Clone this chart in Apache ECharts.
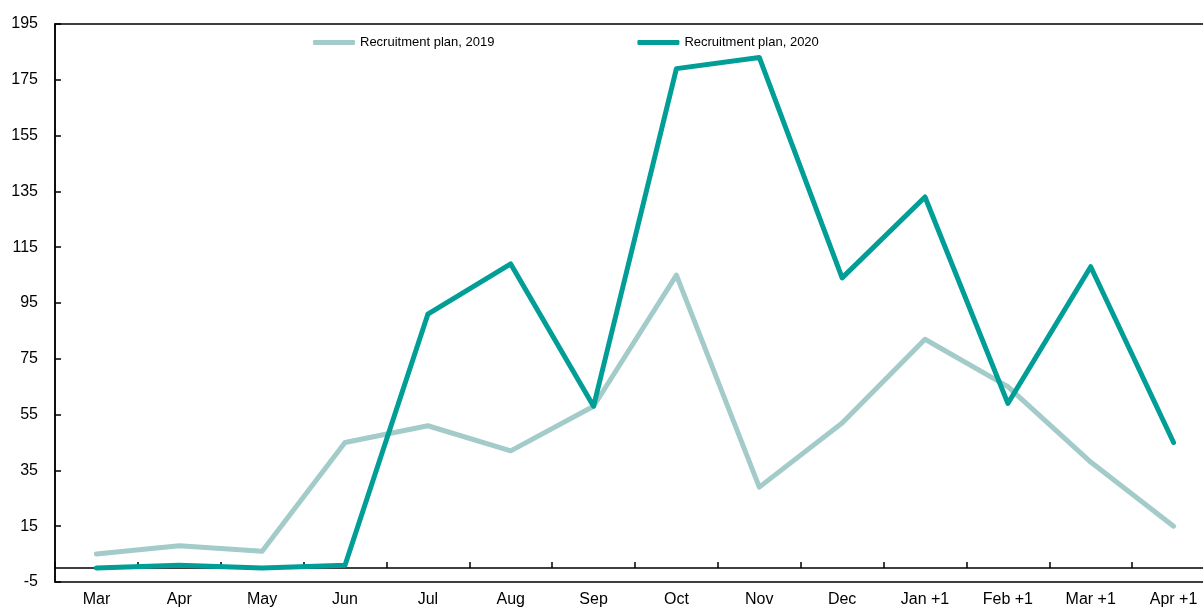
<!DOCTYPE html>
<html lang="en">
<head>
    <meta charset="UTF-8">
    <title>Recruitment plan</title>
    <script src="https://cdn.jsdelivr.net/npm/echarts@6/dist/echarts.min.js"></script>
    <style>
        html, body { margin: 0; padding: 0; background: #fff; }
        #chart { width: 1203px; height: 608px; }
    </style>
</head>
<body>
<div id="chart"></div>
<script>
    // categories and series values
    var months = ['Mar', 'Apr', 'May', 'Jun', 'Jul', 'Aug', 'Sep', 'Oct', 'Nov', 'Dec', 'Jan +1', 'Feb +1', 'Mar +1', 'Apr +1'];
    var plan2019 = [5, 8, 6, 45, 51, 42, 58, 105, 29, 52, 82, 65, 38, 15];
    var plan2020 = [0, 1, 0, 1, 91, 109, 58, 179, 183, 104, 133, 59, 108, 45];
    var seriesNames = ['Recruitment plan, 2019', 'Recruitment plan, 2020'];

    var font = '"Liberation Sans", Arial, sans-serif';
    var myChart = echarts.init(document.getElementById('chart'));
    var option = {
        animation: false,
        grid: {
            left: 55,
            right: -12,
            top: 24,
            bottom: 26,
            outerBoundsMode: 'none',
            containLabel: false,
            show: true,
            borderColor: '#000',
            borderWidth: 1.5
        },
        legend: {
            left: 308,
            top: 31,
            itemGap: 143,
            itemWidth: 42,
            itemHeight: 5,
            icon: 'roundRect',
            textStyle: { fontFamily: font, fontSize: 13, color: '#000' },
            data: seriesNames
        },
        xAxis: {
            type: 'category',
            data: months,
            boundaryGap: true,
            axisLine: { show: true, onZero: true, lineStyle: { color: '#000', width: 1.5 } },
            axisTick: { show: true, inside: true, length: 6, interval: 0, lineStyle: { color: '#000', width: 1.5 } },
            axisLabel: { margin: 10, interval: 0, fontFamily: font, fontSize: 16, color: '#000' },
            splitLine: { show: false }
        },
        yAxis: {
            type: 'value',
            min: -5,
            max: 195,
            interval: 20,
            axisLine: { show: true, onZero: false, lineStyle: { color: '#000', width: 1.5 } },
            axisTick: { show: true, inside: true, length: 6, lineStyle: { color: '#000', width: 1.5 } },
            axisLabel: { margin: 17, fontFamily: font, fontSize: 16, color: '#000' },
            splitLine: { show: false }
        },
        series: [
            {
                name: seriesNames[0],
                type: 'line',
                data: plan2019,
                symbol: 'none',
                color: '#a2cbc9',
                lineStyle: { width: 5, color: '#a2cbc9', cap: 'round', join: 'round' }
            },
            {
                name: seriesNames[1],
                type: 'line',
                data: plan2020,
                symbol: 'none',
                color: '#009e96',
                lineStyle: { width: 5, color: '#009e96', cap: 'round', join: 'round' }
            }
        ]
    };
    myChart.setOption(option);
</script>
</body>
</html>
